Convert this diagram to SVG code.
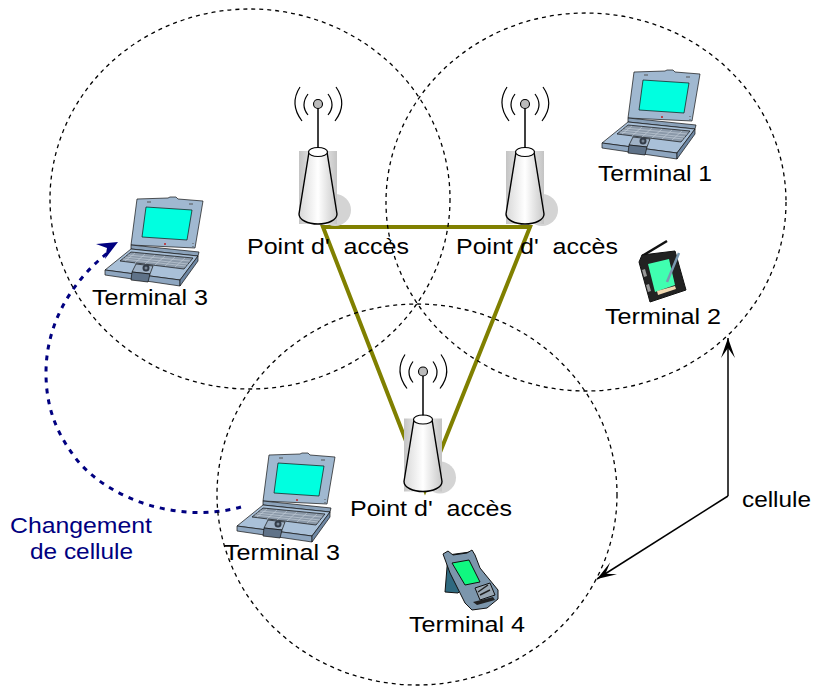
<svg xmlns="http://www.w3.org/2000/svg" width="813" height="686" viewBox="0 0 813 686">
<style>
text{font-family:"Liberation Sans",Arial,sans-serif;font-size:22px;fill:#000;white-space:pre}
.blue{fill:#000080}
.cell{fill:none;stroke:#000;stroke-width:1.3;stroke-dasharray:4 4}
.li{stroke:#111;stroke-width:.7;stroke-linejoin:round}
.wave{fill:none;stroke:#000;stroke-width:1.2}
.ol{stroke:#111;stroke-width:1;stroke-linejoin:round}
</style>
<defs>
<linearGradient id="cone" x1="0" x2="1" y1="0" y2="0"><stop offset="0" stop-color="#d8d8d8"/><stop offset=".5" stop-color="#fff"/><stop offset="1" stop-color="#c8c8c8"/></linearGradient>
<linearGradient id="bk" x1="0" x2="1" y1="0" y2="0"><stop offset="0" stop-color="#c4c4c4"/><stop offset=".5" stop-color="#f4f4f4"/><stop offset="1" stop-color="#c4c4c4"/></linearGradient>
<marker id="black" markerWidth="22" markerHeight="16" refX="20" refY="7" orient="auto" markerUnits="userSpaceOnUse"><path d="M0 0L20 7L0 14L10 7Z" fill="#000"/></marker>
<symbol id="laptop" width="813" height="686" viewBox="0 0 813 686" overflow="visible">
<path class="li" d="M634 72L665 71 667 70 673 70 675 72 700 74 692 121 628 118Z" fill="#a0b8d0"/>
<path class="li" d="M643 80L689 83 684 113 639 110Z" fill="#00ffe0"/>
<circle cx="662" cy="117" r="1" fill="#c02020"/>
<path d="M644 75L648 75M686 77L690 77M690 116V117M690 119V120" stroke="#555" stroke-width="1" fill="none"/>
<path class="li" d="M628 118L696 125 695 129 628 122Z" fill="#8ba2ba"/>
<path class="li" d="M628 122L695 129 677 153 602 143Z" fill="#a9c0d8"/>
<path class="li" d="M602 143L677 153 677 159 602 148Z" fill="#8ea6c0"/>
<path class="li" d="M677 153L695 129 695 134 677 159Z" fill="#6f88a4"/>
<path class="li" d="M628 125L690 131 681 142 617 134Z" fill="#8a98a8"/>
<path d="M625 128L687 134M622 130L685 137M620 132L683 139M632 126L622 134M642 127L632 136M652 128L642 137M662 129L652 138M672 130L662 139M682 131L672 140" stroke="#c8d2dc" stroke-width=".6" fill="none"/>
<path class="li" d="M633 137L650 139 647 147 629 145Z" fill="#a0b2c6"/>
<path class="li" d="M629 145L647 147 645 155 628 153Z" fill="#5f7288"/>
<circle cx="643" cy="141" r="3.500" fill="#333c48"/>
<circle cx="643" cy="141" r="1.500" fill="#7a8898"/>
</symbol>
<symbol id="ap" width="813" height="686" viewBox="0 0 813 686" overflow="visible">
<circle cx="335" cy="210" r="16" fill="#d4d4d4"/>
<rect x="299" y="151" width="38" height="73" fill="url(#bk)"/>
<path d="M309 152L299 214C299 220 308 224 318 224S337 220 337 214L327 152Z" fill="url(#cone)" stroke="#000" stroke-width="1.4"/>
<ellipse cx="318" cy="152" rx="9.500" ry="4.500" fill="#fff" stroke="#000" stroke-width="1.2"/>
<path d="M318 148V108" stroke="#000" stroke-width="1.5"/>
<circle cx="318" cy="104" r="4.500" fill="#bbb" stroke="#000" stroke-width="1.1"/>
<path class="wave" d="M308 94Q300 105 308 115M328 94Q336 105 328 115M300 87Q289 104 302 121M336 87Q348 104 335 121"/>
</symbol>
</defs>
<g id="connectors">
<path d="M323 227H530L425 490Z" fill="none" stroke="#808000" stroke-width="4"/>
<path d="M728 496V338" fill="none" stroke="#000" stroke-width="1.5" marker-end="url(#black)"/>
<path d="M728 496L597 579" fill="none" stroke="#000" stroke-width="1.5" marker-end="url(#black)"/>
<path d="M241 507C180 524 110 500 77 460C55 432 46 405 46 373C46 320 75 278 110 251" fill="none" stroke="#000080" stroke-width="3" stroke-dasharray="5 6"/>
<path d="M118 242L96 244 107 248 105 259Z" fill="#000080"/>
</g>
<g id="cell-1"><ellipse class="cell" cx="250" cy="199" rx="200" ry="190"/></g>
<g id="cell-2"><ellipse class="cell" cx="586" cy="202" rx="200" ry="189"/></g>
<g id="cell-3"><ellipse class="cell" cx="417" cy="494.500" rx="200" ry="190.500"/></g>
<g id="ap-1"><use href="#ap"/><text x="247" y="254" textLength="162" lengthAdjust="spacingAndGlyphs">Point d'  accès</text></g>
<g id="ap-2"><use href="#ap" x="207"/><text x="456" y="254" textLength="162" lengthAdjust="spacingAndGlyphs">Point d'  accès</text></g>
<g id="ap-3"><use href="#ap" x="105" y="267.500"/><text x="350" y="516" textLength="162" lengthAdjust="spacingAndGlyphs">Point d'  accès</text></g>
<g id="terminal-1"><use href="#laptop"/><text x="598" y="181" textLength="114" lengthAdjust="spacingAndGlyphs">Terminal 1</text></g>
<g id="terminal-3a"><use href="#laptop" x="-497" y="127"/><text x="92" y="305" textLength="116" lengthAdjust="spacingAndGlyphs">Terminal 3</text></g>
<g id="terminal-3b"><use href="#laptop" x="-365" y="383"/><text x="224" y="560" textLength="116" lengthAdjust="spacingAndGlyphs">Terminal 3</text></g>
<g id="terminal-2">
<path d="M642 256L667 241" stroke="#111" stroke-width="2.500"/>
<path d="M639 262L642 255 675 251 686 290 650 302Z" fill="#222" class="ol"/>
<path d="M642 270L645 269 647 276 644 277ZM646 285L649 284 651 291 648 292Z" fill="#999"/>
<path d="M648 264L669 259 675 285 655 292Z" fill="#40ffb0"/>
<path d="M657 291L675 286 676 289 658 295Z" fill="#f0d8b0"/>
<path d="M667 282L679 253" stroke="#7a98b0" stroke-width="2.500"/>
<text x="605" y="324" textLength="116" lengthAdjust="spacingAndGlyphs">Terminal 2</text></g>
<g id="terminal-4">
<path d="M448 555L470 552 476 575 458 593 445 592Z" fill="#2f6a80" class="ol"/>
<path d="M443 554L448 551 453 555 467 553 472 550 475 555 480 568 498 590 498 599 487 608 472 610 465 603 450 573Z" fill="#7c96ac" class="ol"/>
<path d="M452 563L469 560 480 582 465 585Z" fill="#10f880" class="ol"/>
<path d="M475 588L490 583 495 595 480 600Z" fill="#9aa8b4" class="ol"/>
<path d="M478 592L488 585M480 595L490 590" stroke="#222" stroke-width="1.500"/>
<path d="M473 602L493 597 495 600 477 605Z" fill="#222"/>
<text x="409" y="632" textLength="116" lengthAdjust="spacingAndGlyphs">Terminal 4</text></g>
<text id="cellule-label" x="742" y="507" textLength="69" lengthAdjust="spacingAndGlyphs">cellule</text>
<g id="change-label"><text class="blue" x="10" y="533" textLength="142" lengthAdjust="spacingAndGlyphs">Changement</text><text class="blue" x="30" y="559" textLength="103" lengthAdjust="spacingAndGlyphs">de cellule</text></g>
</svg>
